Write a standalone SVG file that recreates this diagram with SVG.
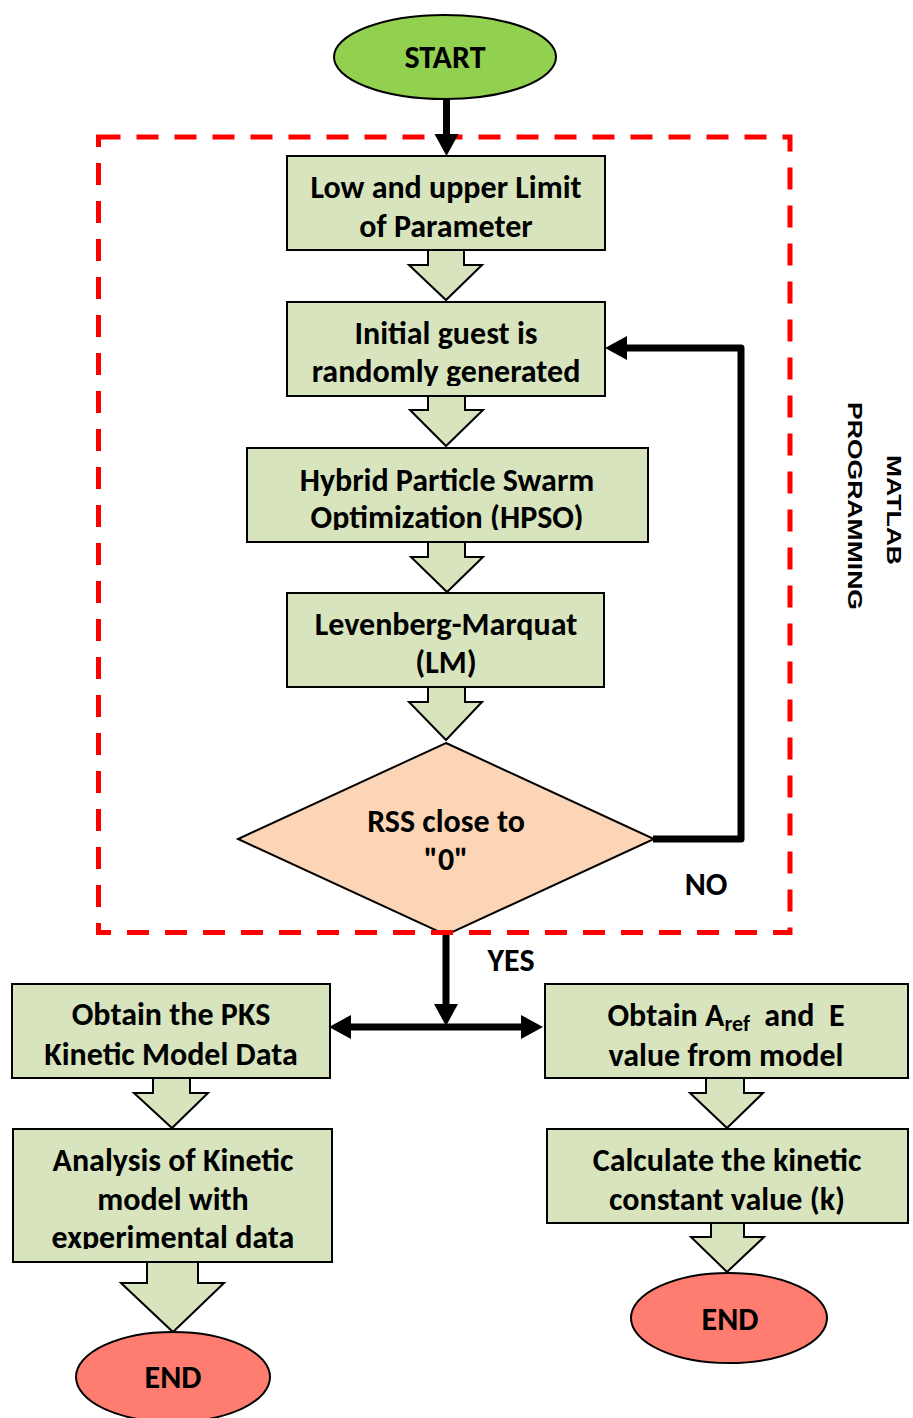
<svg xmlns="http://www.w3.org/2000/svg" width="913" height="1418" viewBox="0 0 913 1418">
<style>
.box{fill:#d7e4bd;stroke:#000;stroke-width:2}
.blk{fill:#d7e4bd;stroke:#000;stroke-width:2;stroke-linejoin:miter}
.t{font-family:Carlito,Lato,"Liberation Sans",sans-serif;font-weight:bold;font-size:32px;fill:#000;text-anchor:middle}
.side{font-family:"Liberation Sans",Arial,sans-serif;font-weight:bold;font-size:21px;fill:#000;text-anchor:middle}
.ln{fill:none;stroke:#000;stroke-width:7;stroke-linejoin:round}
.frame{fill:none;stroke:#ff0000;stroke-width:5;stroke-dasharray:22 16}
</style>
<defs>
<marker id="ah" markerUnits="userSpaceOnUse" markerWidth="22" markerHeight="24" refX="0" refY="12" orient="auto-start-reverse" overflow="visible">
<path d="M0,0 L22,12 L0,24 Z" fill="#000"/>
</marker>
<clipPath id="c2"><rect x="287" y="302" width="318" height="84"/></clipPath>
<clipPath id="c3"><rect x="247" y="448" width="401" height="82"/></clipPath>
<clipPath id="c6"><rect x="13" y="1129" width="319" height="120"/></clipPath>
</defs>

<g id="block-arrows">
<path class="blk" d="M428,250 V265 H409 L446,300 L482,265 H464 V250"/>
<path class="blk" d="M428,395 V410 H410 L446,446 L483,410 H465 V395"/>
<path class="blk" d="M428,542 V557 H411 L447,592 L483,557 H465 V542"/>
<path class="blk" d="M428,687 V702 H409 L446,740 L482,702 H465 V687"/>
<path class="blk" d="M153,1078 V1093 H134 L172,1128 L208,1093 H190 V1078"/>
<path class="blk" d="M147,1262 V1283 H121 L173,1332 L224,1283 H198 V1262"/>
<path class="blk" d="M706,1078 V1093 H690 L727,1128 L763,1093 H744 V1078"/>
<path class="blk" d="M711,1223 V1237 H691 L727,1272 L764,1237 H744 V1223"/>
</g>

<g id="start">
<ellipse cx="445" cy="57" rx="111" ry="42" fill="#92d050" stroke="#000" stroke-width="2"/>
<text class="t" x="445" y="68">START</text>
</g>
<g id="n-limits">
<rect class="box" x="287" y="156" width="318" height="94"/>
<text class="t" x="446" y="198">Low and upper Limit</text>
<text class="t" x="446" y="237">of Parameter</text>
</g>
<g id="n-initial">
<rect class="box" x="287" y="302" width="318" height="94"/>
<g clip-path="url(#c2)">
<text class="t" x="446" y="344">Initial guest is</text>
<text class="t" x="446" y="382">randomly generated</text>
</g>
</g>
<g id="n-hpso">
<rect class="box" x="247" y="448" width="401" height="94"/>
<g clip-path="url(#c3)">
<text class="t" x="447" y="491">Hybrid Particle Swarm</text>
<text class="t" x="447" y="528">Optimization (HPSO)</text>
</g>
</g>
<g id="n-lm">
<rect class="box" x="287" y="593" width="317" height="94"/>
<text class="t" x="446" y="635">Levenberg-Marquat</text>
<text class="t" x="446" y="673">(LM)</text>
</g>
<g id="n-rss">
<polygon points="446,743 654,839 446,935 238,839" fill="#fbd5b5" stroke="#000" stroke-width="2"/>
<text class="t" x="446" y="832">RSS close to</text>
<text class="t" x="446" y="870">"0"</text>
</g>
<g id="n-pks">
<rect class="box" x="12" y="984" width="318" height="94"/>
<text class="t" x="171" y="1025">Obtain the PKS</text>
<text class="t" x="171" y="1065">Kinetic Model Data</text>
</g>
<g id="n-analysis">
<rect class="box" x="13" y="1129" width="319" height="133"/>
<g clip-path="url(#c6)">
<text class="t" x="173" y="1171">Analysis of Kinetic</text>
<text class="t" x="173" y="1210">model with</text>
<text class="t" x="173" y="1248">experimental data</text>
</g>
</g>
<g id="end-left">
<ellipse cx="173" cy="1377" rx="97" ry="45" fill="#ff7c70" stroke="#000" stroke-width="2"/>
<text class="t" x="173" y="1388">END</text>
</g>
<g id="n-aref">
<rect class="box" x="545" y="984" width="363" height="94"/>
<text class="t" x="726" y="1026">Obtain A<tspan font-size="22" dy="5">ref</tspan><tspan dy="-5">&#160; and&#160; E</tspan></text>
<text class="t" x="726" y="1066">value from model</text>
</g>
<g id="n-calc">
<rect class="box" x="547" y="1129" width="361" height="94"/>
<text class="t" x="727" y="1171">Calculate the kinetic</text>
<text class="t" x="727" y="1210">constant value (k)</text>
</g>
<g id="end-right">
<ellipse cx="729" cy="1318" rx="98" ry="45" fill="#ff7c70" stroke="#000" stroke-width="2"/>
<text class="t" x="730" y="1330">END</text>
</g>

<g id="matlab-frame">
<rect class="frame" x="98.5" y="137" width="691.5" height="795.5"/>
<text class="side" transform="translate(887,510) rotate(90)" textLength="110" lengthAdjust="spacingAndGlyphs">MATLAB</text>
<text class="side" transform="translate(848,506) rotate(90)" textLength="208" lengthAdjust="spacingAndGlyphs">PROGRAMMING</text>
</g>

<g id="connectors">
<path class="ln" d="M446.5,99 V134" marker-end="url(#ah)"/>
<path class="ln" d="M653,839 H741 V348 H627" marker-end="url(#ah)"/>
<path class="ln" d="M446,935 V1004" marker-end="url(#ah)"/>
<path class="ln" d="M351,1027 H521" marker-start="url(#ah)" marker-end="url(#ah)"/>
<text class="t" x="706" y="895">NO</text>
<text class="t" x="511" y="971">YES</text>
</g>
</svg>
